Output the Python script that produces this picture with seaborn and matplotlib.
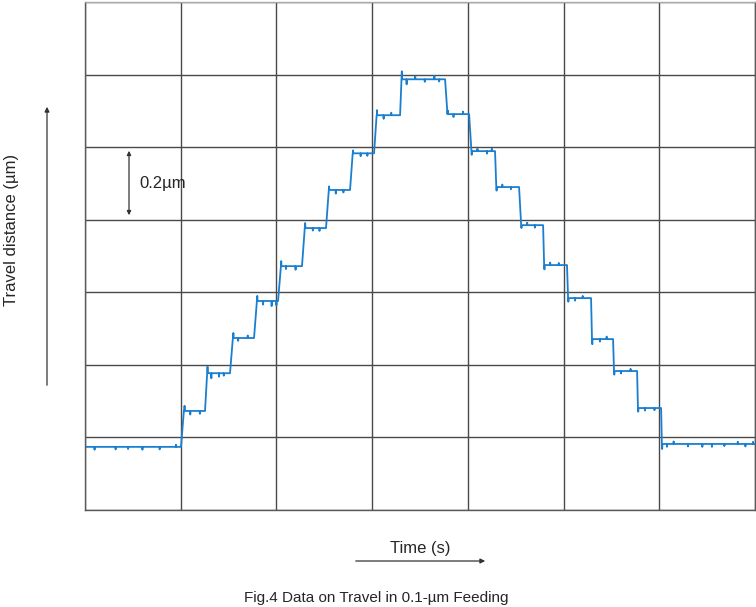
import numpy as np
import pandas as pd
import matplotlib
matplotlib.use('Agg')
import matplotlib.pyplot as plt
import seaborn as sns

# step start times (grid units) and plateau levels (um)
step_t = [0.0, 1.003, 1.254, 1.515, 1.766, 2.017, 2.267, 2.518, 2.769, 3.020, 3.292,
          3.762, 4.013, 4.284, 4.535, 4.786, 5.036, 5.287, 5.517, 5.768, 6.019]
step_level = [0.174, 0.273, 0.377, 0.474, 0.576, 0.672, 0.777, 0.882, 0.983, 1.088, 1.187,
              1.091, 0.989, 0.890, 0.785, 0.675, 0.584, 0.471, 0.383, 0.281, 0.182]
t_end = 7.0

# noise spikes: time, offset (um)
spike_t = [0.10, 0.32, 0.45, 0.60, 0.78, 0.95,
           1.04, 1.10, 1.20, 1.28, 1.32, 1.40, 1.45,
           1.55, 1.60, 1.70, 1.80, 1.86, 1.95, 2.00,
           2.05, 2.10, 2.20, 2.30, 2.38, 2.45,
           2.55, 2.62, 2.70, 2.80, 2.88, 2.95,
           3.05, 3.12, 3.20, 3.31, 3.36, 3.45, 3.55, 3.65, 3.70,
           3.79, 3.85, 3.95, 4.04, 4.10, 4.20, 4.25,
           4.30, 4.36, 4.45, 4.56, 4.62, 4.70,
           4.80, 4.86, 4.95, 5.05, 5.12, 5.20,
           5.30, 5.38, 5.45, 5.53, 5.60, 5.70,
           5.78, 5.85, 5.95, 6.03, 6.08, 6.15, 6.30, 6.45, 6.55, 6.68, 6.82, 6.90, 6.98]
spike_dy = [-0.008, -0.007, -0.006, -0.008, -0.007, 0.006,
            0.014, -0.010, -0.008, 0.018, -0.014, -0.010, -0.007,
            0.014, -0.008, 0.007, 0.014, -0.010, -0.014, -0.012,
            0.014, -0.008, -0.010, 0.014, -0.007, -0.008,
            0.010, -0.010, -0.007, 0.008, -0.008, -0.007,
            0.014, -0.010, 0.007, 0.022, -0.014, 0.008, -0.007, 0.010, -0.006,
            0.010, -0.008, 0.007, -0.010, 0.007, -0.007, 0.007,
            -0.010, 0.007, -0.006, -0.008, 0.007, -0.007,
            -0.012, 0.007, 0.006, -0.010, -0.007, 0.006,
            -0.014, -0.007, 0.007, -0.010, -0.007, 0.006,
            -0.010, -0.007, -0.006, -0.014, -0.008, 0.007, -0.007, -0.008, -0.008, -0.006, 0.006, -0.007, 0.006]

ramp = 0.03

def level_at(t):
    idx = np.searchsorted(step_t, t, side='right') - 1
    return step_level[idx]

pts = []
bounds = step_t + [t_end]
for i, lv in enumerate(step_level):
    start = bounds[i] + (ramp if i > 0 else 0.0)
    pts.append((start, lv))
    pts.append((bounds[i + 1], lv))
for t, dy in zip(spike_t, spike_dy):
    lv = level_at(t)
    pts.append((t - 0.003, lv))
    pts.append((t, lv + dy))
    pts.append((t + 0.003, lv))
pts.sort(key=lambda p: p[0])
df = pd.DataFrame(pts, columns=['time', 'travel'])

sns.set_style('white')
plt.rcParams['font.family'] = ['Liberation Sans', 'DejaVu Sans']

W, H = 756, 607
fig = plt.figure(figsize=(W / 100, H / 100), dpi=100)
ax = fig.add_axes([85 / W, 1 - 510 / H, 670 / W, 508 / H])

sns.lineplot(data=df, x='time', y='travel', ax=ax, estimator=None, sort=False,
             color='#1a7fd0', lw=1.3)

ax.set_xlim(0, 7)
ax.set_ylim(0, 1.4)
ax.set_xticks(np.arange(0, 8, 1))
ax.set_yticks(np.arange(0, 1.41, 0.2))
ax.grid(True, color='#4a4a4a', lw=1)
ax.tick_params(length=0, labelbottom=False, labelleft=False)
ax.set_xlabel('')
ax.set_ylabel('')
for s in ax.spines.values():
    s.set_color('#5a5a5a')
    s.set_linewidth(1)
ax.spines['top'].set_color('#aaaaaa')

def fx(px):
    return px / W

def fy(py):
    return 1 - py / H

arrow = dict(arrowstyle='-|>', color='#333333', lw=0.9, mutation_scale=7)
# y axis label and arrow
fig.text(fx(12), fy(230), 'Travel distance (\u00b5m)', rotation=90, ha='center', va='center', fontsize=12)
fig.add_artist(matplotlib.patches.FancyArrowPatch((fx(47), fy(388)), (fx(47), fy(104)),
               transform=fig.transFigure, **arrow))
# scale bar
fig.add_artist(matplotlib.patches.FancyArrowPatch((fx(129), fy(218)), (fx(129), fy(148)),
               transform=fig.transFigure, arrowstyle='<|-|>', color='#333333', lw=0.9, mutation_scale=6))
fig.text(fx(139), fy(184), '0.2\u00b5m', ha='left', va='center', fontsize=12)
# x label and arrow
fig.text(fx(420), fy(548), 'Time (s)', ha='center', va='center', fontsize=12)
fig.add_artist(matplotlib.patches.FancyArrowPatch((fx(353), fy(561)), (fx(488), fy(561)),
               transform=fig.transFigure, **arrow))
fig.text(fx(376), fy(598), 'Fig.4 Data on Travel in 0.1-\u00b5m Feeding', ha='center', va='center', fontsize=11)

fig.savefig('out.png', dpi=100)
